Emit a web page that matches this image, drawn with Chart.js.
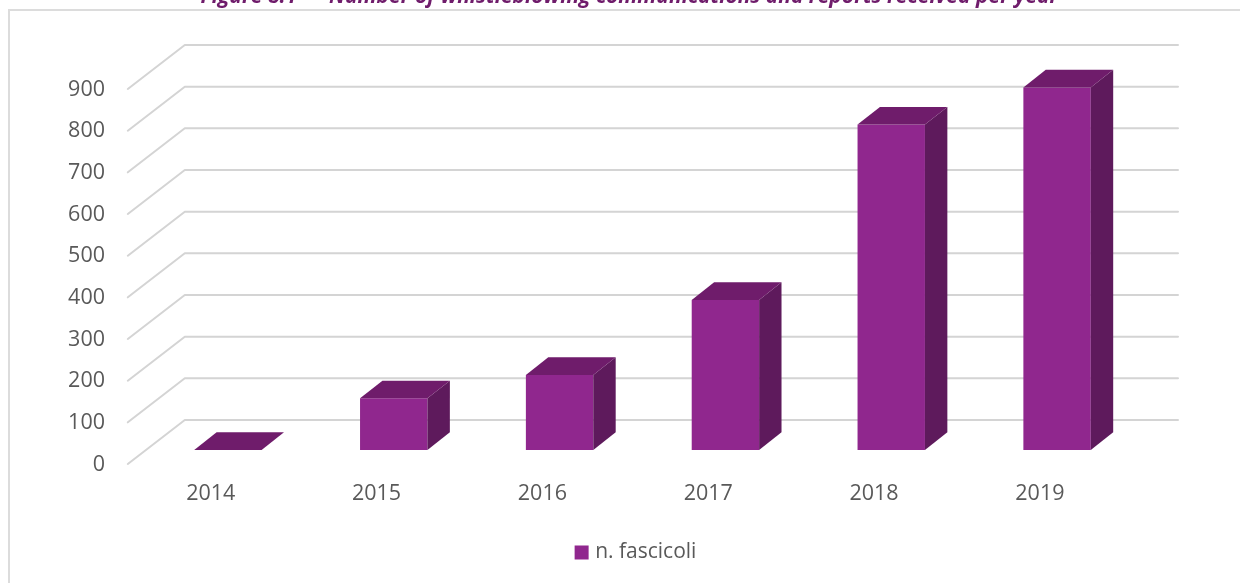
<!DOCTYPE html>
<html>
<head>
<meta charset="utf-8">
<style>
  html, body { margin: 0; padding: 0; background: #fff; overflow: hidden; }
  canvas { display: block; }
</style>
<script src="https://cdn.jsdelivr.net/npm/chart.js@4/dist/chart.umd.min.js"></script>
</head>
<body>
<canvas id="myChart" width="1240" height="583"></canvas>
<script>
const years = ['2014', '2015', '2016', '2017', '2018', '2019'];
const fascicoli = [0, 124, 180, 360, 781, 870];
const yTicks = [0, 100, 200, 300, 400, 500, 600, 700, 800, 900];

const titleText = 'Figure 8.1  \u2013  Number of whistleblowing communications and reports received per year';
const seriesName = 'n. fascicoli';

const faceFront = '#90278e';
const faceTop = '#6f1c6b';
const faceSide = '#5e1a5c';
const gridColor = '#d4d4d4';
const textColor = '#595959';

// depth of a bar, and where the box floor sits relative to the bar plane
const barDepth = { x: 22.4, y: 17.7 };
const floorFront = { x: -17.2, y: 14 };
const floorBack = { x: 39.8, y: -30 };

function polygon(ctx, pts, color) {
    ctx.fillStyle = color;
    ctx.beginPath();
    ctx.moveTo(pts[0][0], pts[0][1]);
    for (let i = 1; i < pts.length; i++) ctx.lineTo(pts[i][0], pts[i][1]);
    ctx.closePath();
    ctx.fill();
}

const box3d = {
    id: 'box3d',
    afterLayout(chart) {
        // title and legend are centred on their own spots, not on the plot
        chart.titleBlock.left += 59.5;
        chart.titleBlock.right += 59.5;
        chart.legend.left += 67.5;
        chart.legend.right += 67.5;
    },
    beforeDraw(chart) {
        const ctx = chart.ctx;
        ctx.save();
        ctx.strokeStyle = '#dcdcdc';
        ctx.lineWidth = 2;
        ctx.beginPath();
        ctx.moveTo(9, chart.height);
        ctx.lineTo(9, 10);
        ctx.lineTo(chart.width, 10);
        ctx.stroke();
        ctx.restore();
    },
    beforeDatasetsDraw(chart) {
        const { ctx, scales: { x, y } } = chart;
        ctx.save();
        ctx.strokeStyle = gridColor;
        ctx.lineWidth = 2;
        ctx.lineCap = 'round';
        ctx.lineJoin = 'round';
        yTicks.forEach(v => {
            const py = y.getPixelForValue(v);
            ctx.beginPath();
            ctx.moveTo(x.left + floorFront.x, py + floorFront.y);
            ctx.lineTo(x.left + floorBack.x, py + floorBack.y);
            ctx.lineTo(x.right + floorBack.x - 1.8, py + floorBack.y);
            ctx.stroke();
        });
        ctx.restore();
    },
    afterDatasetsDraw(chart) {
        const ctx = chart.ctx;
        chart.getDatasetMeta(0).data.forEach(bar => {
            const l = bar.x - bar.width / 2;
            const r = bar.x + bar.width / 2;
            const dx = barDepth.x;
            const dy = barDepth.y;
            polygon(ctx, [[r, bar.y], [r + dx, bar.y - dy], [r + dx, bar.base - dy], [r, bar.base]], faceSide);
            polygon(ctx, [[l, bar.y], [l + dx, bar.y - dy], [r + dx, bar.y - dy], [r, bar.y]], faceTop);
        });
    }
};

const ctx = document.getElementById('myChart').getContext('2d');
new Chart(ctx, {
    type: 'bar',
    data: {
        labels: years,
        datasets: [{
            label: seriesName,
            data: fascicoli,
            backgroundColor: faceFront,
            borderWidth: 0,
            barPercentage: 0.4065,
            categoryPercentage: 1
        }]
    },
    options: {
        responsive: false,
        animation: false,
        layout: { padding: { left: 0, right: 100, top: 0, bottom: 10 } },
        scales: {
            x: {
                grid: { display: false, drawTicks: false },
                border: { display: false },
                afterFit(s) { s.height = 82; },
                ticks: {
                    color: textColor,
                    font: { family: '"Open Sans"', size: 21.5 },
                    padding: 31,
                    labelOffset: -17.2,
                    maxRotation: 0
                }
            },
            y: {
                min: 0,
                max: 900,
                grid: { display: false, drawTicks: false },
                border: { display: false },
                afterFit(s) { s.width = 145; },
                afterBuildTicks(s) { s.ticks = yTicks.map(value => ({ value })); },
                ticks: {
                    color: textColor,
                    font: { family: '"Open Sans"', size: 21.5 },
                    padding: 40,
                    labelOffset: 14.5
                }
            }
        },
        plugins: {
            title: {
                display: true,
                text: titleText,
                color: '#6f1c6b',
                font: { family: '"Open Sans"', size: 21, weight: 'bold', style: 'italic' },
                padding: { top: -16, bottom: 65.8 }
            },
            legend: {
                position: 'bottom',
                labels: {
                    color: textColor,
                    font: { family: '"Open Sans"', size: 21 },
                    // small box with a thick border keeps the text close to the swatch
                    boxWidth: 6,
                    boxHeight: 6,
                    padding: 10,
                    generateLabels(chart) {
                        return Chart.defaults.plugins.legend.labels.generateLabels(chart).map(item => ({
                            ...item,
                            lineWidth: 8,
                            strokeStyle: faceFront
                        }));
                    }
                }
            },
            tooltip: { enabled: false }
        }
    },
    plugins: [box3d]
});
</script>
</body>
</html>
